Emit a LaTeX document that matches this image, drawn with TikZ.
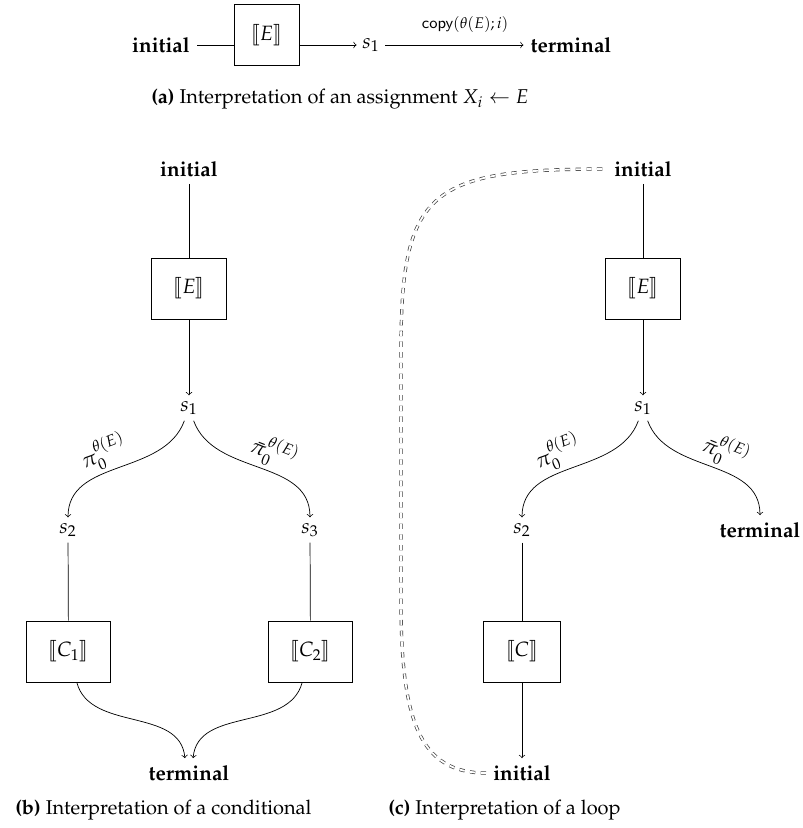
\documentclass[tikz,border=0pt]{standalone}
\usepackage[T1]{fontenc}
\usepackage{mathpazo}
\usepackage{stmaryrd}
\usepackage{amsmath}
\newcommand{\copysf}[1]{\text{\fontencoding{OT1}\fontfamily{cmss}\selectfont #1}}
\begin{document}
\fontsize{11.6}{14}\selectfont
\begin{tikzpicture}[x=0.56pt,y=-0.56pt,>=to,
  box/.style={draw, minimum height=34.2pt, inner xsep=12.5pt},
  term/.style={font=\bfseries},
  st/.style={inner sep=3pt},
  lab/.style={sloped, above, inner sep=2pt},
  captext/.style={anchor=west, font=\fontsize{11.2}{13}\selectfont},
  loopline/.style={draw=black!75, double, double distance=1pt, dashed}]
\useasboundingbox (0,0) rectangle (803,828);

% (a)
\node[term] (ainit) at (161,45) {initial};
\node[box, minimum width=36.4pt, inner xsep=4pt] (abox) at (266.5,35) {$\llbracket E\rrbracket$};
\node[st] (as1) at (371,45) {$s_1$};
\node[term] (aterm) at (571,45) {terminal};
\draw (ainit.east) -- (ainit.east -| abox.west);
\draw[->] (abox.east |- as1.west) -- (as1.west);
\draw[->] (as1) -- node[above, inner sep=3pt, yshift=4pt, xshift=6pt] {\fontsize{8.6}{10}\selectfont$\copysf{copy}(\theta(E);i)$} (aterm);
\node[captext] (capa) at (144,99) {\textbf{(a)} Interpretation of an assignment $X_i\leftarrow E$};

% (b)
\node[term] (binit) at (189,169) {initial};
\node[box] (bE) at (189,288.5) {$\llbracket E\rrbracket$};
\node[st] (bs1) at (189,408) {$s_1$};
\node[st] (bs2) at (68,530) {$s_2$};
\node[st] (bs3) at (310,530) {$s_3$};
\node[box] (bC1) at (68.5,651.5) {$\llbracket C_1\rrbracket$};
\node[box] (bC2) at (310.5,651.5) {$\llbracket C_2\rrbracket$};
\node[term] (bterm) at (189,773) {terminal};
\draw (binit) -- (bE);
\draw[->] (bE) -- (bs1);
\draw[->] (bs1) to[out=-110,in=90] node[lab, pos=0.55] {$\pi_0^{\theta(E)}$} (bs2);
\draw[->] (bs1) to[out=-70,in=90] node[lab, pos=0.55] {$\bar\pi_0^{\theta(E)}$} (bs3);
\draw (bs2) -- (bC1);
\draw (bs3) -- (bC2);
\draw[->] (bC1) to[out=-75,in=95] ([xshift=-2.3pt]bterm.north);
\draw[->] (bC2) to[out=-105,in=85] ([xshift=2.3pt]bterm.north);
\node[captext] (capb) at (8,810) {\textbf{(b)} Interpretation of a conditional};

% (c)
\node[term] (cinit) at (643,169) {initial};
\node[box] (cE) at (643,288.5) {$\llbracket E\rrbracket$};
\node[st] (cs1) at (643,408) {$s_1$};
\node[st] (cs2) at (522,530) {$s_2$};
\node[term] (cterm) at (760,530) {terminal};
\node[box] (cC) at (522,651.5) {$\llbracket C\rrbracket$};
\node[term] (cinit2) at (522,773) {initial};
\draw (cinit) -- (cE);
\draw[->] (cE) -- (cs1);
\draw[->] (cs1) to[out=-110,in=90] node[lab, pos=0.55] {$\pi_0^{\theta(E)}$} (cs2);
\draw[->] (cs1) to[out=-70,in=90] node[lab, pos=0.55] {$\bar\pi_0^{\theta(E)}$} (cterm);
\draw (cs2) -- (cC);
\draw[->] (cC) -- (cinit2);
\coordinate (L1) at (401,600);
\coordinate (L2) at (401,350);
\draw[loopline] (cinit2.west) .. controls +(-67,0) and +(0,120) .. (L1) -- (L2) .. controls +(0,-160) and +(-177,0) .. (cinit.west);
\node[captext] (capc) at (381,810) {\textbf{(c)} Interpretation of a loop};
\end{tikzpicture}
\end{document}
